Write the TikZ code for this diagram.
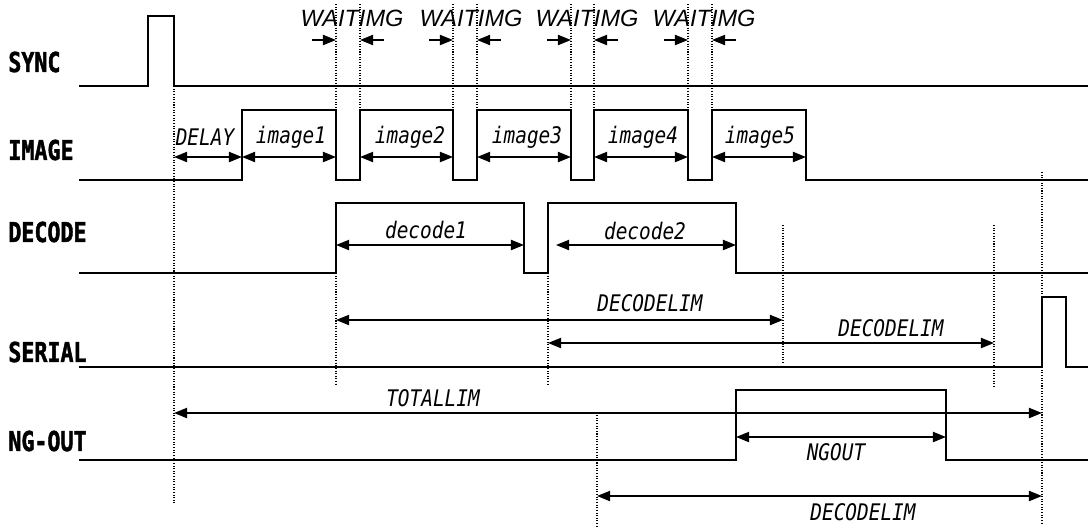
\documentclass[tikz,border=0pt]{standalone}
\usepackage{fontspec}
\usepackage{tikz}
\usetikzlibrary{arrows.meta}
\newfontfamily\sigfont[FakeStretch=0.79,FakeBold=1.6]{DejaVu Sans Mono Bold}
\newfontfamily\timefont[FakeStretch=0.85]{DejaVu Sans Mono Oblique}
\newfontfamily\waitfont{Liberation Sans Italic}
\tikzset{
  sig/.style={draw=black, line width=1.2pt, line join=miter},
  guide/.style={draw=black, line width=0.6pt, dash pattern=on 0.6pt off 0.9pt},
  dim/.style={draw=black, line width=1pt, {Triangle[length=7.5pt,width=5.8pt]}-{Triangle[length=7.5pt,width=5.8pt]}},
  dimto/.style={draw=black, line width=1pt, -{Triangle[length=7.5pt,width=5.8pt]}},
  siglab/.style={anchor=west, inner sep=0pt, font=\sigfont\fontsize{15.6}{18}\selectfont},
  tlab/.style={inner sep=0pt, font=\timefont\fontsize{13}{15}\selectfont},
  wlab/.style={inner sep=0pt, font=\waitfont\fontsize{13.4}{16}\selectfont},
}

\begin{document}
\begin{tikzpicture}[x=0.02cm, y=-0.02cm]
  \useasboundingbox (0,0) rectangle (1088,529);

  % signal names
  \node[siglab] (sync)   at (8,62)  {SYNC};
  \node[siglab] (image)  at (8,150) {IMAGE};
  \node[siglab] (decode) at (8,232) {DECODE};
  \node[siglab] (serial) at (8,352) {SERIAL};
  \node[siglab] (ngout)  at (8,441) {NG-OUT};

  % waveforms
  \draw[sig] (79,86) -- (148,86) -- (148,16) -- (174,16) -- (174,86) -- (1088,86);
  \draw[sig] (79,180) -- (242,180) -- (242,110) -- (336,110) -- (336,180)
    -- (360,180) -- (360,110) -- (453,110) -- (453,180)
    -- (477,180) -- (477,110) -- (571,110) -- (571,180)
    -- (594,180) -- (594,110) -- (688,110) -- (688,180)
    -- (712,180) -- (712,110) -- (806,110) -- (806,180) -- (1088,180);
  \draw[sig] (79,273) -- (336,273) -- (336,203) -- (524,203) -- (524,273)
    -- (548,273) -- (548,203) -- (736,203) -- (736,273) -- (1088,273);
  \draw[sig] (79,367) -- (1042,367) -- (1042,297) -- (1066,297) -- (1066,367) -- (1088,367);
  \draw[sig] (79,460) -- (736,460) -- (736,390) -- (946,390) -- (946,460) -- (1088,460);

  % guide lines
  \draw[guide] (174,86) -- (174,505);
  \draw[guide] (336,4) -- (336,110);
  \draw[guide] (360,4) -- (360,110);
  \draw[guide] (453,4) -- (453,110);
  \draw[guide] (477,4) -- (477,110);
  \draw[guide] (571,4) -- (571,110);
  \draw[guide] (594,4) -- (594,110);
  \draw[guide] (688,4) -- (688,110);
  \draw[guide] (712,4) -- (712,110);
  \draw[guide] (336,273) -- (336,386);
  \draw[guide] (548,273) -- (548,386);
  \draw[guide] (783,225) -- (783,363);
  \draw[guide] (994,225) -- (994,386);
  \draw[guide] (1042,172) -- (1042,523);
  \draw[guide] (597,415) -- (597,528);

  % WAITIMG
  \coordinate (w1a) at (312,40); \coordinate (w1b) at (336,40);
  \coordinate (w1c) at (360,40); \coordinate (w1d) at (384,40);
  \coordinate (w2a) at (429,40); \coordinate (w2b) at (453,40);
  \coordinate (w2c) at (477,40); \coordinate (w2d) at (501,40);
  \coordinate (w3a) at (547,40); \coordinate (w3b) at (571,40);
  \coordinate (w3c) at (594,40); \coordinate (w3d) at (618,40);
  \coordinate (w4a) at (664,40); \coordinate (w4b) at (688,40);
  \coordinate (w4c) at (712,40); \coordinate (w4d) at (736,40);
  \draw[dimto] (w1a) -- (w1b);  \draw[dimto] (w1d) -- (w1c);
  \draw[dimto] (w2a) -- (w2b);  \draw[dimto] (w2d) -- (w2c);
  \draw[dimto] (w3a) -- (w3b);  \draw[dimto] (w3d) -- (w3c);
  \draw[dimto] (w4a) -- (w4b);  \draw[dimto] (w4d) -- (w4c);
  \node[wlab] (wait1) at (352,18) {WAITIMG};
  \node[wlab] (wait2) at (471,18) {WAITIMG};
  \node[wlab] (wait3) at (587,18) {WAITIMG};
  \node[wlab] (wait4) at (704,18) {WAITIMG};

  % image times
  \coordinate (i0) at (174,157);
  \coordinate (i1) at (242,157);
  \coordinate (i2) at (336,157);
  \coordinate (i3) at (360,157);
  \coordinate (i4) at (453,157);
  \coordinate (i5) at (477,157);
  \coordinate (i6) at (571,157);
  \coordinate (i7) at (594,157);
  \coordinate (i8) at (688,157);
  \coordinate (i9) at (712,157);
  \coordinate (i10) at (806,157);
  \draw[dim] (i0) -- (i1);
  \draw[dim] (i1) -- (i2);
  \draw[dim] (i3) -- (i4);
  \draw[dim] (i5) -- (i6);
  \draw[dim] (i7) -- (i8);
  \draw[dim] (i9) -- (i10);
  \node[tlab] (delay) at (205,137) {DELAY};
  \node[tlab] (img1) at (291,137) {image1};
  \node[tlab] (img2) at (410,137) {image2};
  \node[tlab] (img3) at (527,137) {image3};
  \node[tlab] (img4) at (643,137) {image4};
  \node[tlab] (img5) at (760,137) {image5};

  % decode times
  \coordinate (d0) at (336,245);
  \coordinate (d1) at (524,245);
  \coordinate (d2) at (556,245);
  \coordinate (d3) at (736,245);
  \draw[dim] (d0) -- (d1);
  \draw[dim] (d2) -- (d3);
  \node[tlab] (dec1) at (426,230) {decode1};
  \node[tlab] (dec2) at (645,231) {decode2};

  % limits
  \coordinate (l1a) at (336,320);  \coordinate (l1b) at (783,320);
  \coordinate (l2a) at (548,343);  \coordinate (l2b) at (994,343);
  \coordinate (ta)  at (174,413);  \coordinate (tb)  at (1042,413);
  \coordinate (na)  at (736,437);  \coordinate (nb)  at (946,437);
  \coordinate (l3a) at (597,496);  \coordinate (l3b) at (1042,496);
  \draw[dim] (l1a) -- (l1b);
  \draw[dim] (l2a) -- (l2b);
  \draw[dim] (ta) -- (tb);
  \draw[dim] (na) -- (nb);
  \draw[dim] (l3a) -- (l3b);
  \node[tlab] (lim1) at (650,303) {DECODELIM};
  \node[tlab] (lim2) at (891,328) {DECODELIM};
  \node[tlab] (total) at (433,398) {TOTALLIM};
  \node[tlab] (ngt) at (836,452) {NGOUT};
  \node[tlab] (lim3) at (863,512) {DECODELIM};
\end{tikzpicture}
\end{document}
